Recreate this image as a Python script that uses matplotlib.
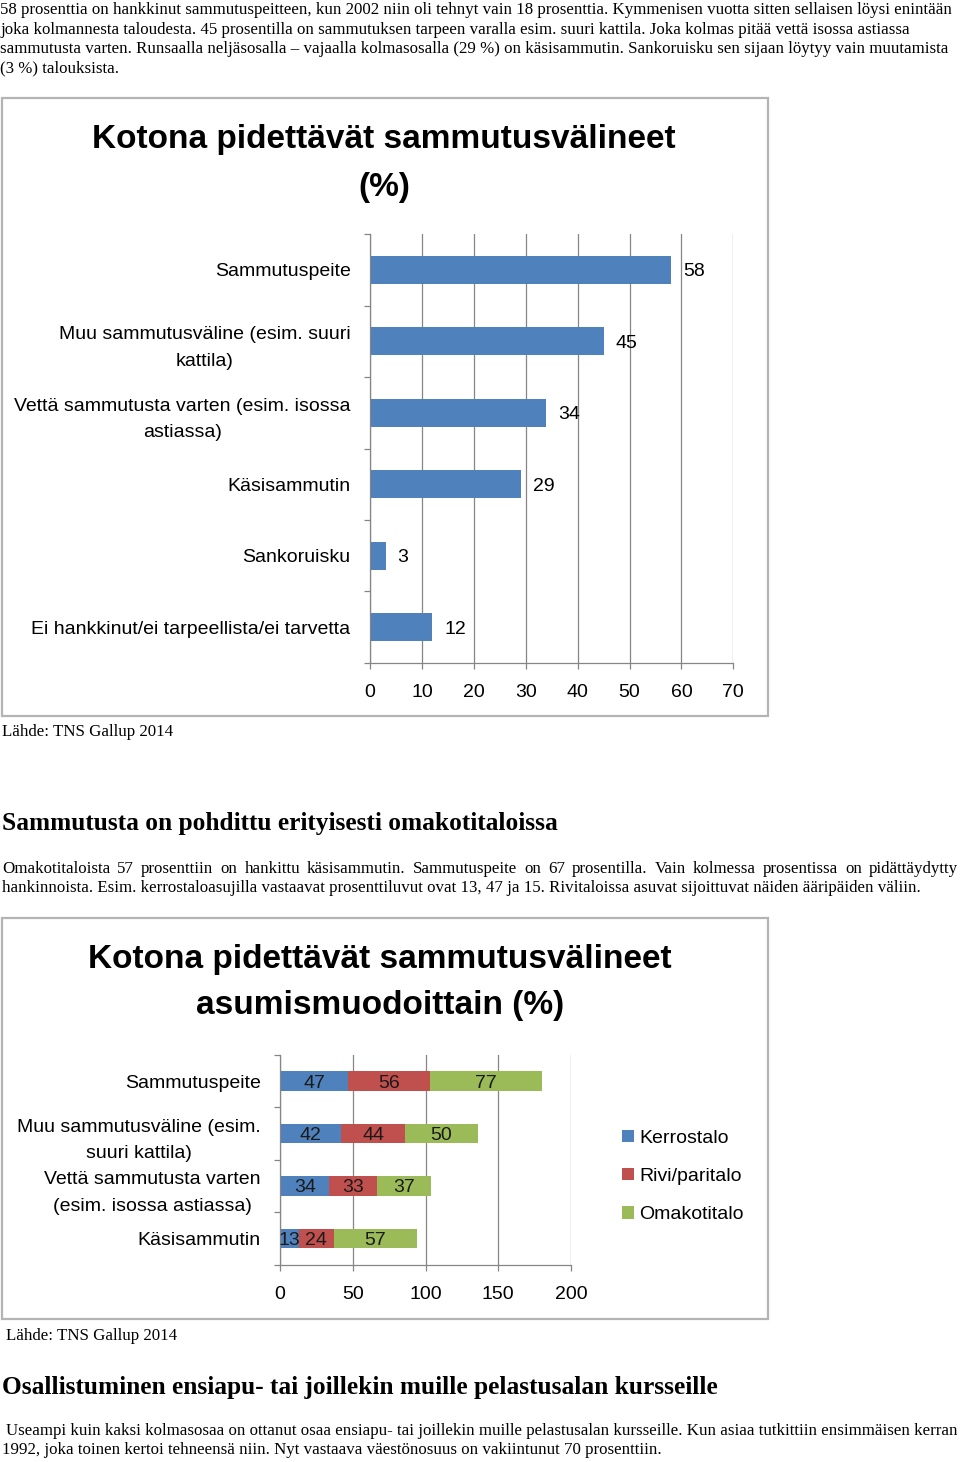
import matplotlib
matplotlib.use("Agg")
import matplotlib.pyplot as plt
import matplotlib.transforms as mtransforms
from matplotlib.patches import Rectangle

W, H = 960, 1462

# chart 1: kotona pidettävät sammutusvälineet (%)
cats1 = ["Sammutuspeite",
         "Muu sammutusväline (esim. suuri\nkattila)",
         "Vettä sammutusta varten (esim. isossa\nastiassa)",
         "Käsisammutin",
         "Sankoruisku",
         "Ei hankkinut/ei tarpeellista/ei tarvetta"]
vals1 = [58, 45, 34, 29, 3, 12]
ticks1 = [0, 10, 20, 30, 40, 50, 60, 70]

# chart 2: asumismuodoittain (%)
cats2 = ["Sammutuspeite",
         "Muu sammutusväline (esim.\nsuuri kattila)",
         "Vettä sammutusta varten\n(esim. isossa astiassa)",
         "Käsisammutin"]
series2 = ["Kerrostalo", "Rivi/paritalo", "Omakotitalo"]
kerrostalo = [47, 42, 34, 13]
rivitalo = [56, 44, 33, 24]
omakotitalo = [77, 50, 37, 57]
ticks2 = [0, 50, 100, 150, 200]

para1 = ["58 prosenttia on hankkinut sammutuspeitteen, kun 2002 niin oli tehnyt vain 18 prosenttia. Kymmenisen vuotta sitten sellaisen löysi enintään",
         "joka kolmannesta taloudesta. 45 prosentilla on sammutuksen tarpeen varalla esim. suuri kattila. Joka kolmas pitää vettä isossa astiassa",
         "sammutusta varten. Runsaalla neljäsosalla \u2013 vajaalla kolmasosalla (29 %) on käsisammutin. Sankoruisku sen sijaan löytyy vain muutamista",
         "(3 %) talouksista."]
head2 = "Sammutusta on pohdittu erityisesti omakotitaloissa"
para2 = ["Omakotitaloista 57 prosenttiin on hankittu käsisammutin. Sammutuspeite on 67 prosentilla. Vain kolmessa prosentissa on pidättäydytty",
         "hankinnoista. Esim. kerrostaloasujilla vastaavat prosenttiluvut ovat 13, 47 ja 15. Rivitaloissa asuvat sijoittuvat näiden ääripäiden väliin."]
head3 = "Osallistuminen ensiapu- tai joillekin muille pelastusalan kursseille"
para3 = ["Useampi kuin kaksi kolmasosaa on ottanut osaa ensiapu- tai joillekin muille pelastusalan kursseille. Kun asiaa tutkittiin ensimmäisen kerran",
         "1992, joka toinen kertoi tehneensä niin. Nyt vastaava väestönosuus on vakiintunut 70 prosenttiin."]
source = "Lähde: TNS Gallup 2014"

BLUE, RED, GREEN = "#4f81bd", "#c0504d", "#9bbb59"
GRID = "#868686"
SANS = "Liberation Sans"
SERIF = "Liberation Serif"
BODY = 12.2

fig = plt.figure(figsize=(W / 100, H / 100), dpi=100)
# pixel coords, y down
T = mtransforms.Affine2D().scale(1 / W, -1 / H).translate(0, 1) + fig.transFigure
renderer = fig.canvas.get_renderer()


def put_line(x, y, s, width=None, **kw):
    if width is None:
        fig.text(x, y, s, transform=T, **kw)
        return
    words = s.split()
    ts = [fig.text(0, y, w, transform=T, **kw) for w in words]
    ws = [t.get_window_extent(renderer).width for t in ts]
    gap = (width - sum(ws)) / (len(words) - 1)
    cx = x
    for t, w in zip(ts, ws):
        t.set_x(cx)
        cx += w + gap


def body(x, y0, lines, step=19.4, justify=()):
    for i, s in enumerate(lines):
        put_line(x, y0 + i * step, s, width=(958 - x) if i in justify else None,
                 family=SERIF, fontsize=BODY, va="baseline", ha="left")


def frame(x, y, w, h):
    fig.patches.append(Rectangle((x, y), w, h, transform=T, fill=False,
                                 edgecolor="#b4b4b4", lw=1.6))


def style_axis(ax, ticks, n):
    ax.set_xlim(ticks[0], ticks[-1])
    ax.set_xticks(ticks)
    ax.set_ylim(n - 0.5, -0.5)
    ax.set_yticks(range(n))
    ax.set_yticks([i - 0.5 for i in range(n + 1)], minor=True)
    ax.grid(axis="x", color=GRID, lw=0.9)
    ax.set_axisbelow(True)
    for sp in ("top", "right"):
        ax.spines[sp].set_visible(False)
    for sp in ("left", "bottom"):
        ax.spines[sp].set_color(GRID)
        ax.spines[sp].set_linewidth(0.9)
    ax.tick_params(axis="y", which="major", length=0, pad=14)
    ax.tick_params(axis="y", which="minor", length=4, color=GRID, width=0.9)
    ax.tick_params(axis="x", length=4, color=GRID, width=0.9, pad=11.5, labelsize=14)
    for lab in ax.get_xticklabels():
        lab.set_family(SANS)


# ---- text above chart 1
body(0, 14.5, para1)

# ---- chart 1
frame(2, 98, 766, 618)
fig.text(384, 139.5, "Kotona pidettävät sammutusvälineet", transform=T, ha="center",
         va="center", family=SANS, fontsize=24, fontweight="bold")
fig.text(384, 187.5, "(%)", transform=T, ha="center", va="center",
         family=SANS, fontsize=24, fontweight="bold")

ax1 = fig.add_axes([370 / W, 1 - 662.7 / H, 363.3 / W, 428.4 / H])
ax1.barh(range(len(vals1)), vals1, height=0.39, color=BLUE)
style_axis(ax1, ticks1, len(cats1))
ax1.set_yticklabels(cats1, family=SANS, fontsize=14, ha="right",
                    multialignment="center", linespacing=1.7)
for i, v in enumerate(vals1):
    ax1.annotate(str(v), (v, i), xytext=(12, 0), textcoords="offset pixels",
                 ha="left", va="center_baseline", family=SANS, fontsize=14)

fig.text(2, 736, source, transform=T, family=SERIF, fontsize=BODY, va="baseline")

# ---- middle text
fig.text(2, 830, head2, transform=T, family=SERIF, fontsize=18.3,
         fontweight="bold", va="baseline")
body(2, 873, para2, justify=(0,))

# ---- chart 2
frame(2, 918, 766, 401)
fig.text(380, 959.5, "Kotona pidettävät sammutusvälineet", transform=T, ha="center",
         va="center", family=SANS, fontsize=24, fontweight="bold")
fig.text(380, 1005.5, "asumismuodoittain (%)", transform=T, ha="center", va="center",
         family=SANS, fontsize=24, fontweight="bold")

ax2 = fig.add_axes([280 / W, 1 - 1264.75 / H, 291 / W, 210 / H])
left = [0] * len(cats2)
for name, vals, col in zip(series2, [kerrostalo, rivitalo, omakotitalo],
                           [BLUE, RED, GREEN]):
    bars = ax2.barh(range(len(cats2)), vals, left=left, height=0.38, color=col,
                    label=name)
    for t in ax2.bar_label(bars, labels=[str(v) for v in vals], label_type="center",
                           family=SANS, fontsize=14, color="#1a1a1a"):
        t.set_va("center_baseline")
    left = [a + b for a, b in zip(left, vals)]
style_axis(ax2, ticks2, len(cats2))
ax2.set_yticklabels(cats2, family=SANS, fontsize=14, ha="right",
                    multialignment="center", linespacing=1.75)
ax2.legend(loc="center left", bbox_to_anchor=(622, 1176.5), bbox_transform=T,
           frameon=False, prop={"family": SANS, "size": 14},
           handlelength=0.6, handleheight=0.6, handletextpad=0.3,
           labelspacing=1.1, borderpad=0, borderaxespad=0)

fig.text(6, 1340, source, transform=T, family=SERIF, fontsize=BODY, va="baseline")

# ---- bottom text
fig.text(2, 1394, head3, transform=T, family=SERIF, fontsize=18.3,
         fontweight="bold", va="baseline")
put_line(6, 1435, para3[0], family=SERIF, fontsize=BODY, va="baseline")
put_line(2, 1454.5, para3[1], family=SERIF, fontsize=BODY, va="baseline")

fig.savefig("out.png", dpi=100)
